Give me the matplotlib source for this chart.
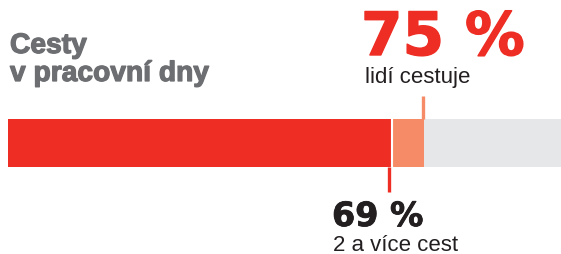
import matplotlib
matplotlib.use("Agg")
import matplotlib.pyplot as plt
import matplotlib.transforms as mtransforms
import matplotlib.patheffects as pe

# data
title_lines = ["Cesty", "v pracovní dny"]
share_travel = 75          # % lidí cestuje
share_multi = 69           # % 2 a více cest
label_travel = "lidí cestuje"
label_multi = "2 a více cest"
total = 100

RED = "#ee2e24"
SALMON = "#f68b67"
GRAY = "#e6e7e8"
TITLE_GRAY = "#6d6e71"
DARK = "#231f20"

W, H = 561, 255
fig = plt.figure(figsize=(W / 100, H / 100), dpi=100)

def fy(y):
    return 1 - y / H

def fx(x):
    return x / W

ax = fig.add_axes([fx(8), fy(168), 555 / W, 48 / H])
ax.set_xlim(0, total)
ax.set_ylim(0, 1)
ax.axis("off")

ax.barh(0.5, total, height=1, color=GRAY, left=0)
ax.barh(0.5, share_travel, height=1, color=SALMON, left=0)
ax.barh(0.5, share_multi, height=1, color=RED, left=0)

# white separator right after red
sep = mtransforms.offset_copy(ax.get_xaxis_transform(), fig=fig, x=1.0, y=0, units="dots")
ax.plot([share_multi, share_multi], [0, 1], color="white", lw=1.5,
        transform=sep, solid_capstyle="butt")

# leader lines
tr_red = mtransforms.offset_copy(ax.get_xaxis_transform(), fig=fig, x=-1.5, y=0, units="dots")
ax.plot([share_multi, share_multi], [0, -25 / 48], color=RED, lw=2.4,
        transform=tr_red, clip_on=False, solid_capstyle="butt")
tr_sal = mtransforms.offset_copy(ax.get_xaxis_transform(), fig=fig, x=-1.5, y=0, units="dots")
ax.plot([share_travel, share_travel], [1, 1 + 23 / 48], color=SALMON, lw=2.4,
        transform=tr_sal, clip_on=False, solid_capstyle="butt")

heavy_gray = [pe.withStroke(linewidth=0.9, foreground=TITLE_GRAY)]
heavy_red = [pe.withStroke(linewidth=1.0, foreground=RED)]
heavy_dark = [pe.withStroke(linewidth=0.6, foreground=DARK)]

# title
fig.text(fx(10), fy(54), title_lines[0], color=TITLE_GRAY, fontsize=20.3,
         fontweight="bold", family="Liberation Sans", va="baseline", ha="left",
         path_effects=heavy_gray)
fig.text(fx(10), fy(82), title_lines[1], color=TITLE_GRAY, fontsize=20.3,
         fontweight="bold", family="Liberation Sans", va="baseline", ha="left",
         path_effects=heavy_gray)

# big numbers
fig.text(fx(361), fy(56), f"{share_travel} %", color=RED, fontsize=43,
         fontweight="bold", family="DejaVu Sans", va="baseline", ha="left",
         path_effects=heavy_red)
fig.text(fx(365), fy(83), label_travel, color=DARK, fontsize=16,
         family="Liberation Sans", va="baseline", ha="left")

fig.text(fx(332), fy(227), f"{share_multi} %", color=DARK, fontsize=24,
         fontweight="bold", family="DejaVu Sans", va="baseline", ha="left",
         path_effects=heavy_dark)
fig.text(fx(333), fy(251), label_multi, color=DARK, fontsize=16,
         family="Liberation Sans", va="baseline", ha="left")

fig.savefig("out.png", dpi=100)
